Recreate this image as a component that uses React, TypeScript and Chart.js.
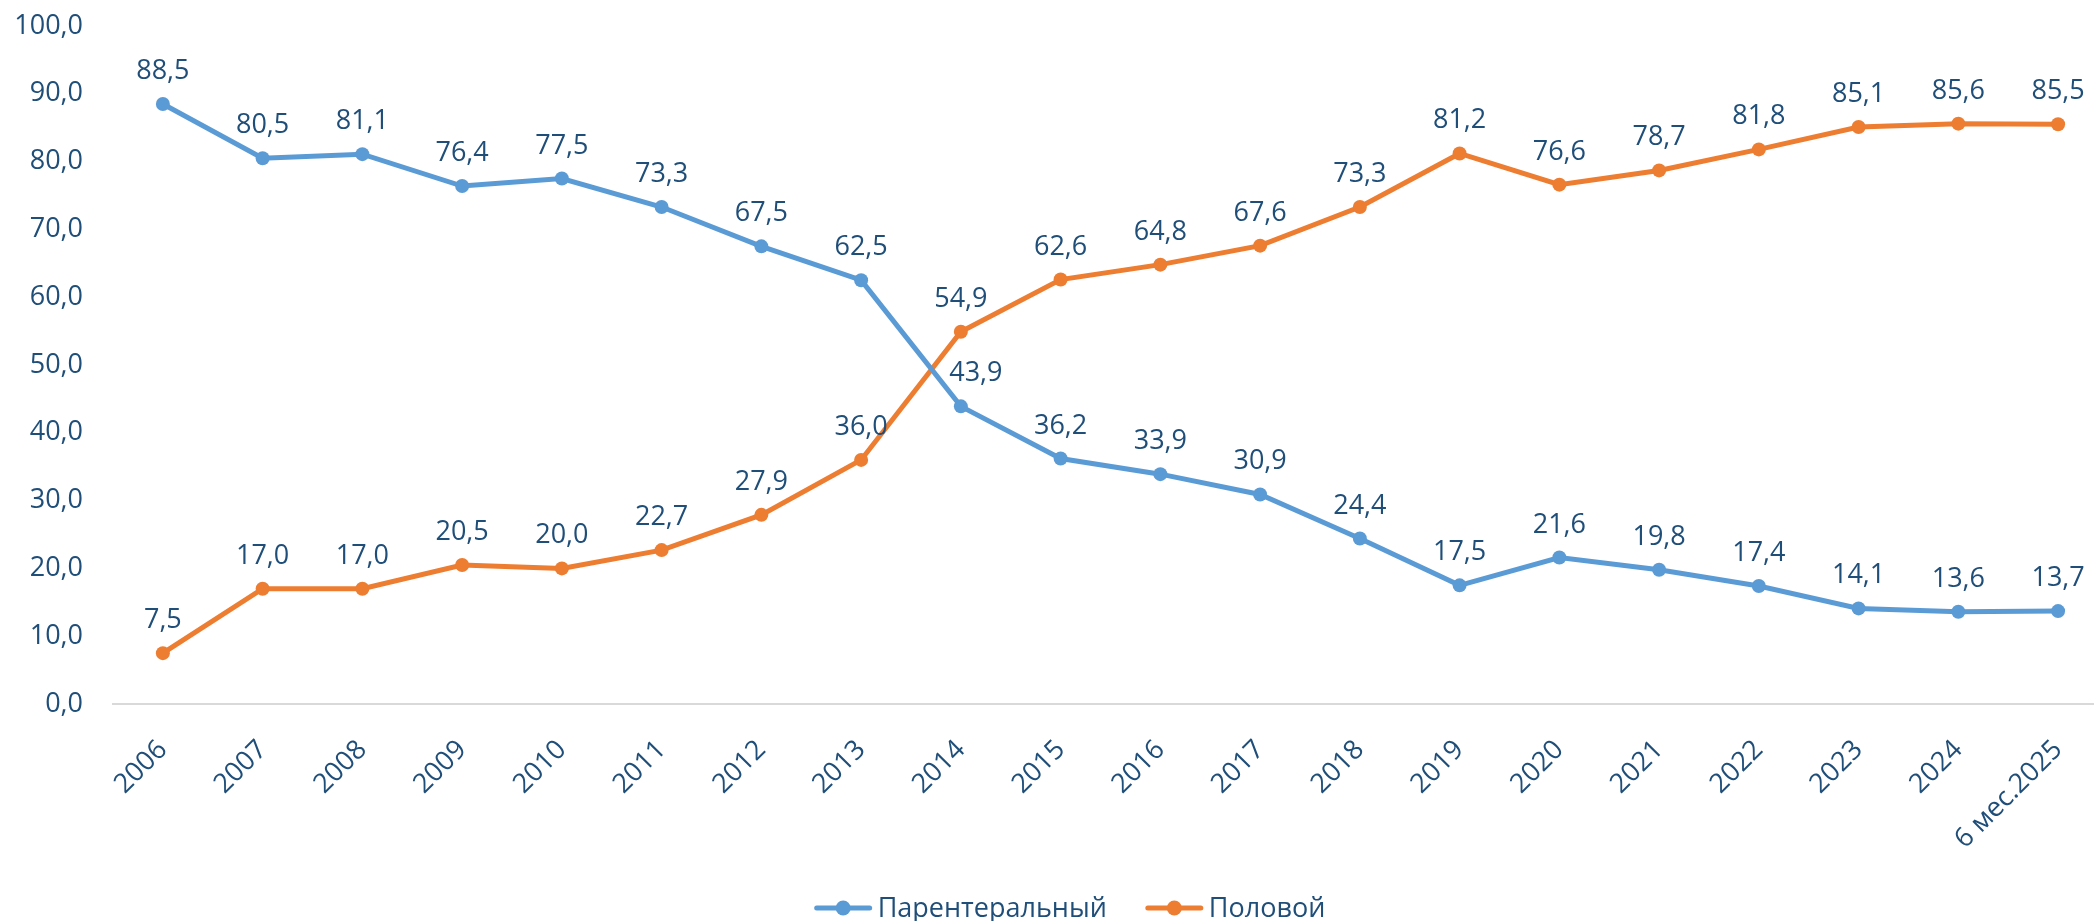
import React, { useEffect, useRef } from "react";
import { Chart, registerables } from "chart.js";

Chart.register(...registerables);

const categories = [
  "2006", "2007", "2008", "2009", "2010", "2011", "2012", "2013", "2014", "2015",
  "2016", "2017", "2018", "2019", "2020", "2021", "2022", "2023", "2024", "6 мес.2025",
];
const parenteral = [88.5, 80.5, 81.1, 76.4, 77.5, 73.3, 67.5, 62.5, 43.9, 36.2, 33.9, 30.9, 24.4, 17.5, 21.6, 19.8, 17.4, 14.1, 13.6, 13.7];
const sexual = [7.5, 17.0, 17.0, 20.5, 20.0, 22.7, 27.9, 36.0, 54.9, 62.6, 64.8, 67.6, 73.3, 81.2, 76.6, 78.7, 81.8, 85.1, 85.6, 85.5];
const seriesNames = ["Парентеральный", "Половой"];

const BLUE = "#5B9BD5";
const ORANGE = "#ED7D31";
const TEXT = "#1F4E79";
const FONT_FAMILY = '"Open Sans", "Noto Sans", sans-serif';
const FONT_SIZE = 27;
const LEGEND_CENTER_X = 1070;
const LEGEND_Y = 908;

const fmt = (v: number) => v.toFixed(1).replace(".", ",");

// label nudges (dataset index - point index -> dx), purely presentational
const labelNudge: Record<string, number> = { "0-8": 15 };

const dataLabelPlugin = {
  id: "dataLabels",
  afterDatasetsDraw(chart: any) {
    const ctx = chart.ctx;
    ctx.save();
    ctx.font = `${FONT_SIZE}px ${FONT_FAMILY}`;
    ctx.fillStyle = TEXT;
    ctx.textAlign = "center";
    ctx.textBaseline = "alphabetic";
    chart.data.datasets.forEach((ds: any, i: number) => {
      const meta = chart.getDatasetMeta(i);
      meta.data.forEach((pt: any, j: number) => {
        const dx = labelNudge[`${i}-${j}`] || 0;
        ctx.fillText(fmt(ds.data[j]), pt.x + dx, pt.y - 25);
      });
    });
    ctx.restore();
  },
};

const legendPlugin = {
  id: "lineLegend",
  afterDraw(chart: any) {
    const ctx = chart.ctx;
    ctx.save();
    ctx.font = `${FONT_SIZE}px ${FONT_FAMILY}`;
    const markerW = 57;
    const gap = 6;
    const itemGap = 39;
    const items = chart.data.datasets.map((ds: any) => ({
      label: ds.label,
      color: ds.borderColor,
      w: markerW + gap + ctx.measureText(ds.label).width,
    }));
    const total = items.reduce((s: number, it: any) => s + it.w, 0) + itemGap * (items.length - 1);
    let x = LEGEND_CENTER_X - total / 2;
    const y = LEGEND_Y;
    items.forEach((it: any) => {
      ctx.strokeStyle = it.color;
      ctx.lineWidth = 5;
      ctx.lineCap = "round";
      ctx.beginPath();
      ctx.moveTo(x + 2, y);
      ctx.lineTo(x + markerW - 2, y);
      ctx.stroke();
      ctx.fillStyle = it.color;
      ctx.beginPath();
      ctx.arc(x + markerW / 2, y, 7.5, 0, Math.PI * 2);
      ctx.fill();
      ctx.fillStyle = TEXT;
      ctx.textAlign = "left";
      ctx.textBaseline = "middle";
      ctx.fillText(it.label, x + markerW + gap, y + 1);
      x += it.w + itemGap;
    });
    ctx.restore();
  },
};

export default function App() {
  const ref = useRef<HTMLCanvasElement | null>(null);

  useEffect(() => {
    if (!ref.current) return;
    const chart = new Chart(ref.current, {
      type: "line",
      data: {
        labels: categories,
        datasets: [
          {
            label: seriesNames[0],
            data: parenteral,
            borderColor: BLUE,
            backgroundColor: BLUE,
            borderWidth: 5,
            pointRadius: 7,
            pointHoverRadius: 7,
            pointBackgroundColor: BLUE,
            pointBorderWidth: 0,
            tension: 0,
          },
          {
            label: seriesNames[1],
            data: sexual,
            borderColor: ORANGE,
            backgroundColor: ORANGE,
            borderWidth: 5,
            pointRadius: 7,
            pointHoverRadius: 7,
            pointBackgroundColor: ORANGE,
            pointBorderWidth: 0,
            tension: 0,
          },
        ],
      },
      options: {
        responsive: false,
        animation: false,
        devicePixelRatio: 1,
        layout: { autoPadding: false, padding: { top: 26, right: 0, bottom: 0, left: 0 } },
        plugins: {
          legend: { display: false },
          tooltip: { enabled: false },
        },
        scales: {
          x: {
            offset: true,
            grid: { display: false, drawTicks: false },
            border: { display: true, color: "#D9D9D9", width: 2 },
            ticks: {
              autoSkip: false,
              maxRotation: 45,
              minRotation: 45,
              padding: 30,
              color: TEXT,
              font: { size: FONT_SIZE, family: FONT_FAMILY },
            },
            afterFit: (scale: any) => {
              scale.height = 217;
            },
          },
          y: {
            min: 0,
            max: 100,
            ticks: {
              stepSize: 10,
              padding: 8,
              color: TEXT,
              font: { size: FONT_SIZE, family: FONT_FAMILY },
              callback: (v: any) => fmt(Number(v)),
            },
            grid: { display: false, drawTicks: true, tickLength: 22, tickColor: "rgba(0,0,0,0)" },
            border: { display: false },
            afterFit: (scale: any) => {
              scale.width = 113;
            },
          },
        },
      },
      plugins: [dataLabelPlugin, legendPlugin],
    });
    return () => chart.destroy();
  }, []);

  return (
    <div style={{ position: "absolute", left: 0, top: 0, width: 2094, height: 921, overflow: "hidden", background: "#fff" }}>
      <canvas ref={ref} width={2111} height={921} style={{ width: 2111, height: 921, display: "block" }} />
    </div>
  );
}
